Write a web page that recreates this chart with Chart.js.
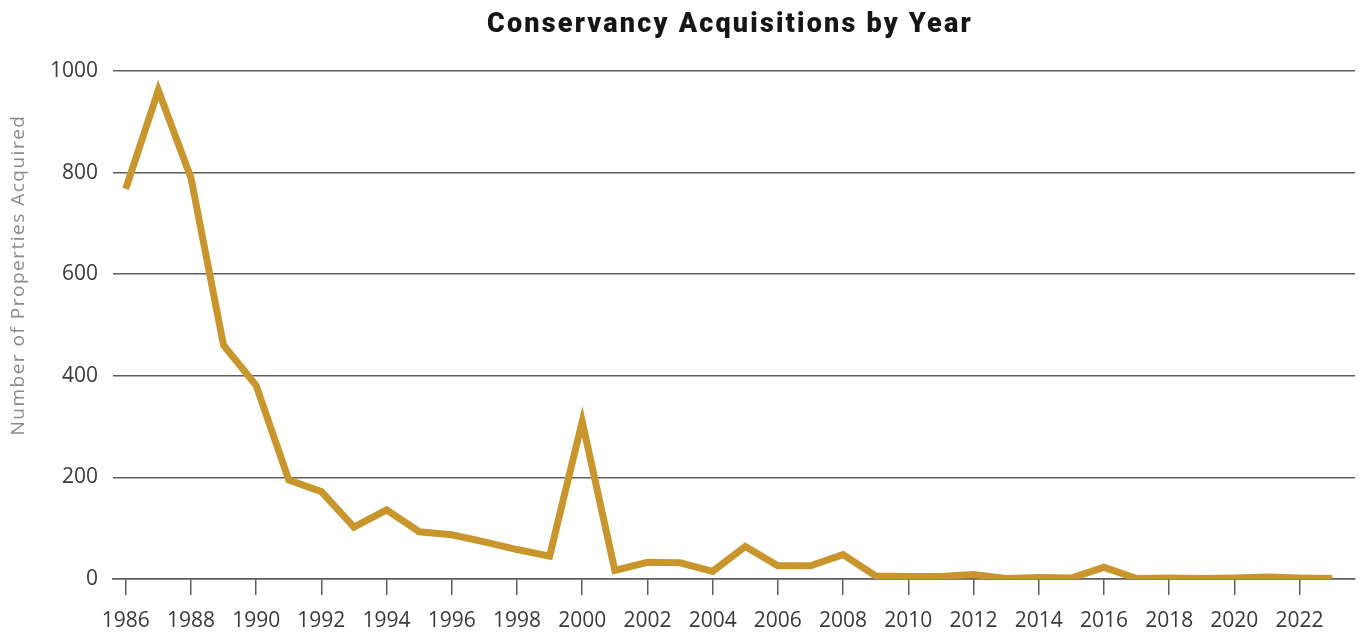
<!DOCTYPE html>
<html>
<head>
<meta charset="utf-8">
<script src="https://cdn.jsdelivr.net/npm/chart.js@4"></script>
<style>
  html, body { margin: 0; padding: 0; background: #fff; }
  #wrap { width: 1359px; height: 633px; }
</style>
</head>
<body>
<div id="wrap"><canvas id="chart" width="1359" height="633"></canvas></div>
<script>
const years = [
  1986, 1987, 1988, 1989, 1990, 1991, 1992, 1993, 1994, 1995,
  1996, 1997, 1998, 1999, 2000, 2001, 2002, 2003, 2004, 2005,
  2006, 2007, 2008, 2009, 2010, 2011, 2012, 2013, 2014, 2015,
  2016, 2017, 2018, 2019, 2020, 2021, 2022, 2023
];
const acquisitions = [
  768, 962, 790, 460, 381, 195, 172, 102, 136, 93,
  87, 73, 58, 45, 310, 17, 33, 32, 15, 64,
  26, 26, 48, 6, 5, 5, 9, 1, 3, 2,
  23, 1, 2, 1, 2, 4, 2, 1
];
const xTicks = [1986, 1988, 1990, 1992, 1994, 1996, 1998, 2000, 2002, 2004,
  2006, 2008, 2010, 2012, 2014, 2016, 2018, 2020, 2022];
const yTicks = [0, 200, 400, 600, 800, 1000];

const chartTitle = "Conservancy Acquisitions by Year";
const yAxisTitle = "Number of Properties Acquired";

const lineColor = "#c8962c";
const gridColor = "#5e5e5e";

// title and y axis title are drawn by hand so they can get letter spacing
// (the original uses a wider typeface than anything installed here)
const textPlugin = {
  id: "titles",
  afterDraw(chart) {
    const ctx = chart.ctx;
    const area = chart.chartArea;

    ctx.save();
    ctx.font = "900 27px Roboto";
    ctx.letterSpacing = "2.2px";
    ctx.fillStyle = "#161616";
    ctx.textAlign = "center";
    ctx.textBaseline = "alphabetic";
    ctx.fillText(chartTitle, (area.left + area.right) / 2 - 4, 32);
    ctx.restore();

    ctx.save();
    ctx.translate(area.left - 94, area.top + 204);
    ctx.rotate(-Math.PI / 2);
    ctx.font = "19px 'Open Sans'";
    ctx.letterSpacing = "1.5px";
    ctx.fillStyle = "#8c8c8c";
    ctx.textAlign = "center";
    ctx.textBaseline = "middle";
    ctx.fillText(yAxisTitle, 0, 0);
    ctx.restore();
  },
};

const ctx = document.getElementById("chart").getContext("2d");
new Chart(ctx, {
  type: "line",
  data: {
    datasets: [
      {
        data: years.map((y, i) => ({ x: y, y: acquisitions[i] })),
        borderColor: lineColor,
        borderWidth: 7,
        borderJoinStyle: "miter",
        borderCapStyle: "butt",
        pointRadius: 0,
        tension: 0,
        fill: false,
      },
    ],
  },
  options: {
    responsive: false,
    animation: false,
    devicePixelRatio: 1,
    layout: { padding: { left: 0, right: 4, top: 71, bottom: 0 } },
    plugins: {
      legend: { display: false },
      tooltip: { enabled: false },
      title: { display: false },
    },
    scales: {
      x: {
        type: "linear",
        min: 1985.61,
        max: 2023.7,
        afterBuildTicks: (scale) => {
          scale.ticks = xTicks.map((v) => ({ value: v }));
        },
        afterFit: (scale) => {
          scale.height = 54;
        },
        grid: {
          drawOnChartArea: false,
          drawTicks: true,
          tickLength: 16,
          color: gridColor,
          lineWidth: 1.5,
        },
        border: { display: true, color: gridColor, width: 1.5 },
        ticks: {
          padding: 13,
          color: "#3a3a3a",
          font: { family: "Open Sans", size: 21 },
          maxRotation: 0,
          autoSkip: false,
          callback: (v) => String(v),
        },
      },
      y: {
        min: 0,
        max: 1000,
        afterBuildTicks: (scale) => {
          scale.ticks = yTicks.map((v) => ({ value: v }));
        },
        afterFit: (scale) => {
          scale.width = 113;
        },
        grid: {
          drawTicks: false,
          color: gridColor,
          lineWidth: 1.5,
        },
        border: { display: false },
        ticks: {
          padding: 15,
          color: "#3a3a3a",
          font: { family: "Open Sans", size: 21 },
          callback: (v) => String(v),
        },
      },
    },
  },
  plugins: [textPlugin],
});
</script>
</body>
</html>
